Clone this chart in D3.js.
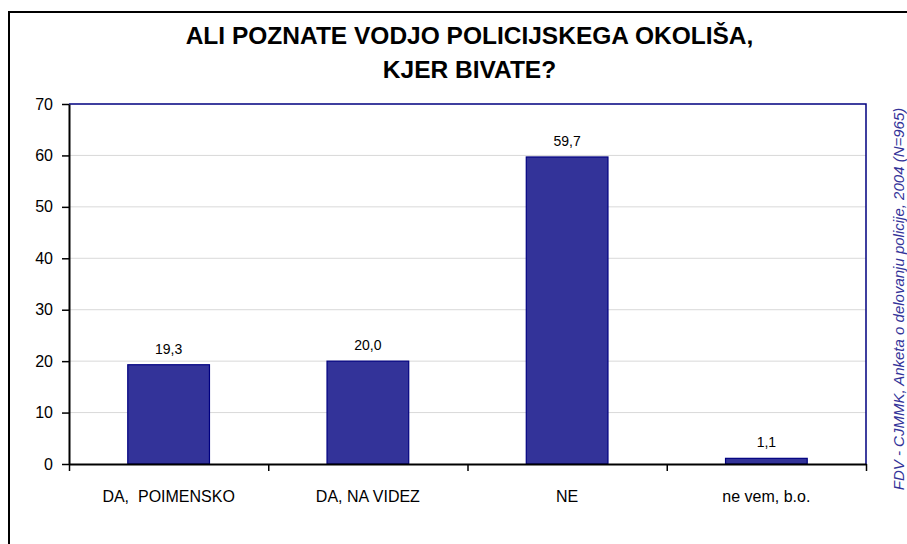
<!DOCTYPE html>
<html>
<head>
<meta charset="utf-8">
<script src="https://cdn.jsdelivr.net/npm/d3@7"></script>
<style>
  body { margin: 0; background: #fff; }
  text { font-family: Arial, "Liberation Sans", sans-serif; }
</style>
</head>
<body>
<script>
// chart data
const categories = ["DA,  POIMENSKO", "DA, NA VIDEZ", "NE", "ne vem, b.o."];
const values = [19.3, 20.0, 59.7, 1.1];
const yTicks = [0, 10, 20, 30, 40, 50, 60, 70];
const titleLines = ["ALI POZNATE VODJO POLICIJSKEGA OKOLIŠA,", "KJER BIVATE?"];
const sourceText = "FDV - CJMMK, Anketa o delovanju policije, 2004 (N=965)";

const width = 907;
const height = 544;
const plot = {left: 69, right: 866, top: 104, bottom: 464};

let svg = d3.select("body").append("svg")
  .attr("width", width)
  .attr("height", height);

// outer frame (runs off the right and bottom edge)
svg.append("rect")
  .attr("x", 9).attr("y", 12)
  .attr("width", 1000).attr("height", 1000)
  .attr("fill", "none")
  .attr("stroke", "#000")
  .attr("stroke-width", 2);

//scales
let x = d3.scaleBand()
  .domain(categories)
  .range([plot.left, plot.right])
  .paddingInner(0.59)
  .paddingOuter(0.295);

let xEdges = d3.scaleLinear()
  .domain([0, categories.length])
  .range([plot.left, plot.right]);

let y = d3.scaleLinear()
  .domain([0, 70])
  .range([plot.bottom, plot.top]);

//gridlines
svg.append("g")
  .selectAll("line")
  .data(yTicks.filter(d => d > 0 && d < 70))
  .enter().append("line")
    .attr("x1", plot.left).attr("x2", plot.right)
    .attr("y1", d => y(d)).attr("y2", d => y(d))
    .attr("stroke", "#d9d9d9")
    .attr("stroke-width", 1);

// top + right border of plot area
svg.append("path")
  .attr("d", "M" + plot.left + "," + plot.top + "H" + plot.right + "V" + plot.bottom)
  .attr("fill", "none")
  .attr("stroke", "#000080")
  .attr("stroke-width", 1.5);

//bars
svg.append("g")
  .selectAll("rect")
  .data(values)
  .enter().append("rect")
    .attr("x", (d, i) => x(categories[i]))
    .attr("y", d => y(d))
    .attr("width", x.bandwidth())
    .attr("height", d => y(0) - y(d))
    .attr("fill", "#333399")
    .attr("stroke", "#000080")
    .attr("stroke-width", 1.2);

//value labels
svg.append("g")
  .selectAll("text")
  .data(values)
  .enter().append("text")
    .attr("x", (d, i) => x(categories[i]) + x.bandwidth() / 2)
    .attr("y", d => y(d) - 11)
    .attr("text-anchor", "middle")
    .attr("font-size", 14)
    .attr("fill", "#000")
    .text(d => d.toFixed(1).replace(".", ","));

//y axis
let yAxis = svg.append("g")
  .attr("transform", "translate(" + plot.left + ",0)")
  .call(d3.axisLeft(y).tickValues(yTicks).tickSize(7).tickPadding(9).tickSizeOuter(0));
yAxis.select(".domain").attr("stroke", "#000").attr("stroke-width", 2);
yAxis.selectAll(".tick line").attr("stroke", "#000").attr("stroke-width", 1.5);
yAxis.selectAll(".tick text")
  .attr("font-size", 16)
  .attr("font-family", "Arial, 'Liberation Sans', sans-serif")
  .attr("fill", "#000");

//x axis: tick marks at category edges
let xAxis = svg.append("g")
  .attr("transform", "translate(0," + plot.bottom + ")")
  .call(d3.axisBottom(xEdges).ticks(categories.length).tickSize(7).tickFormat("").tickSizeOuter(0));
xAxis.select(".domain").attr("stroke", "#000").attr("stroke-width", 2);
xAxis.selectAll(".tick line").attr("stroke", "#000").attr("stroke-width", 1.5);

//category labels
let xLabels = svg.append("g")
  .attr("transform", "translate(0," + plot.bottom + ")")
  .call(d3.axisBottom(x).tickSize(0).tickPadding(27));
xLabels.select(".domain").remove();
xLabels.selectAll(".tick text")
  .attr("font-size", 16)
  .attr("font-family", "Arial, 'Liberation Sans', sans-serif")
  .attr("fill", "#000")
  .style("white-space", "pre");

//title
svg.append("g")
  .selectAll("text")
  .data(titleLines)
  .enter().append("text")
    .attr("x", (plot.left + plot.right) / 2 + 2)
    .attr("y", (d, i) => 44 + i * 34)
    .attr("text-anchor", "middle")
    .attr("font-size", 24.5)
    .attr("font-weight", "bold")
    .attr("fill", "#000")
    .text(d => d);

//source note, rotated
svg.append("text")
  .attr("transform", "translate(904,299) rotate(-90)")
  .attr("text-anchor", "middle")
  .attr("font-size", 15)
  .attr("font-style", "italic")
  .attr("fill", "#333399")
  .text(sourceText);
</script>
</body>
</html>
